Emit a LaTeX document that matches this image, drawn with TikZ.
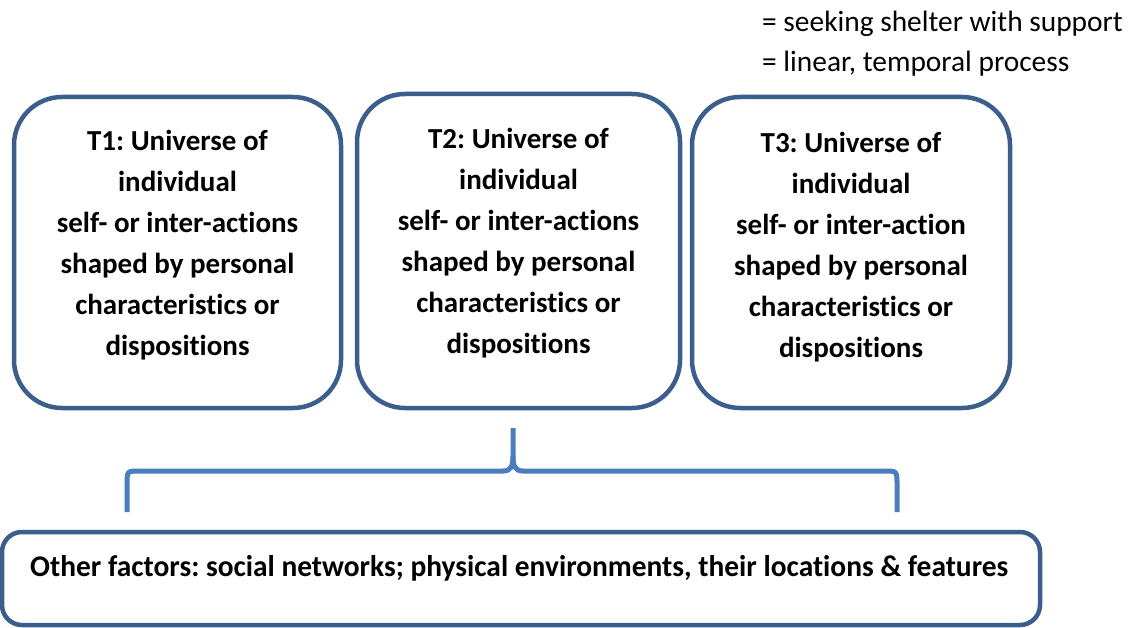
\documentclass[tikz,border=0pt]{standalone}
\usepackage{fontspec}
\setmainfont{Carlito}[Ligatures=NoCommon]
\usepackage{graphicx}
\frenchspacing
\definecolor{frameblue}{HTML}{3B5E8C}
\definecolor{braceblue}{HTML}{4A7EBB}
\begin{document}
\begin{tikzpicture}[x=1pt,y=-1pt,
  tbox/.style={draw=frameblue, line width=4.5pt, rounded corners=48pt,
    fill=white, inner sep=0pt, outer sep=0pt},
  fbox/.style={draw=frameblue, line width=4.5pt, rounded corners=20pt,
    fill=white, inner sep=0pt, outer sep=0pt},
  ttext/.style={align=center, inner sep=0pt,
    font=\fontsize{29}{41}\selectfont\bfseries},
  legtext/.style={anchor=base west, inner sep=0pt,
    font=\fontsize{29.4}{35}\selectfont},
  brace/.style={draw=braceblue, line width=5pt}]
\useasboundingbox (0,0) rectangle (1131,628);

% legend
\node[legtext] (leg1) at (762,32) {= seeking shelter with support};
\node[legtext] (leg2) at (762,72) {= linear, temporal process};

% three time-point boxes
\node[tbox, minimum width=327pt, minimum height=311pt] (t1) at (177.5,252.5) {};
\node[tbox, minimum width=323pt, minimum height=314pt] (t2) at (518.5,251) {};
\node[tbox, minimum width=318pt, minimum height=311pt] (t3) at (851,252.5) {};

\node[ttext] (t1txt) at (177.5,245.5) {T1: Universe of\\individual\\self- or inter-actions\\shaped by personal\\characteristics or\\dispositions};
\node[ttext] (t2txt) at (518.5,243.5) {T2: Universe of\\individual\\self- or inter-actions\\shaped by personal\\characteristics or\\dispositions};
\node[ttext] (t3txt) at (851,247.5) {T3: Universe of\\individual\\self- or inter-action\\shaped by personal\\characteristics or\\dispositions};

% bracket gathering the other factors
\coordinate (braceL) at (127,512);
\coordinate (braceTip) at (513,428);
\coordinate (braceR) at (897,512);
\draw[brace] (braceL) -- (127,484) .. controls (127,471) .. (140,471)
  -- (503,471) .. controls (511,471) and (513,466) .. (513,456) -- (braceTip);
\draw[brace] (513,456) .. controls (513,466) and (515,471) .. (523,471)
  -- (884,471) .. controls (897,471) .. (897,484) -- (braceR);

% other factors box
\node[fbox, minimum width=1038pt, minimum height=93pt] (factors) at (521,578.5) {};
\node[anchor=base west, inner sep=0pt, font=\fontsize{30}{36}\selectfont\bfseries]
  (factorstxt) at (30,576)
  {\resizebox{978pt}{\height}{Other factors: social networks; physical environments, their locations \& features}};
\end{tikzpicture}
\end{document}
